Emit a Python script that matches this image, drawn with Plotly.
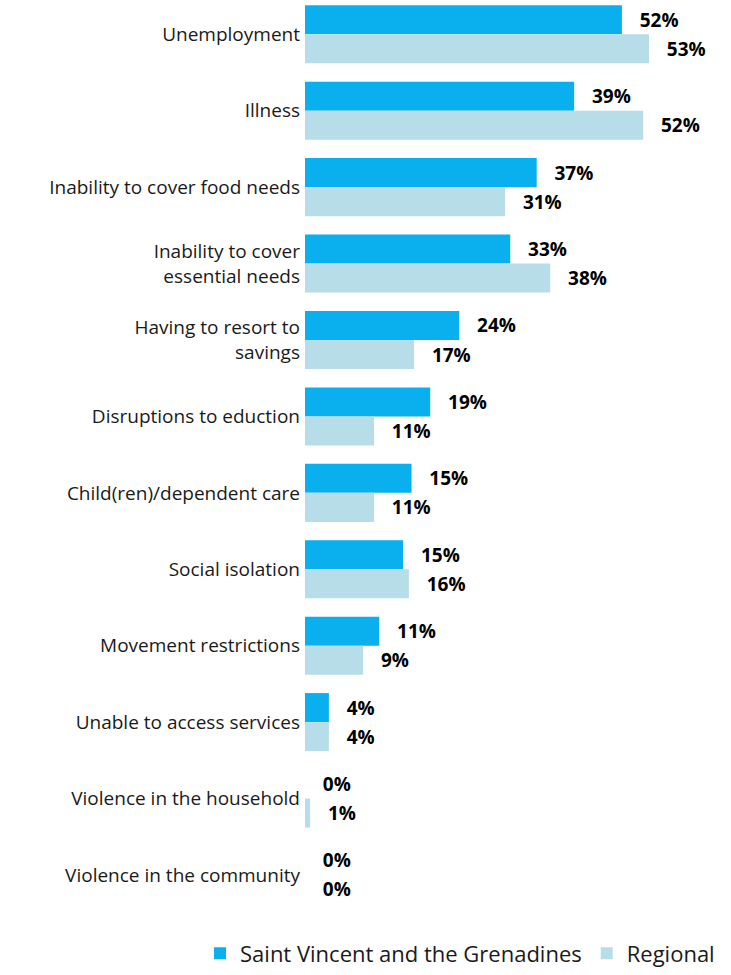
import plotly.graph_objects as go

categories = [
    "Unemployment",
    "Illness",
    "Inability to cover food needs",
    "Inability to cover<br>essential needs",
    "Having to resort to<br>savings",
    "Disruptions to eduction",
    "Child(ren)/dependent care",
    "Social isolation",
    "Movement restrictions",
    "Unable to access services",
    "Violence in the household",
    "Violence in the community",
]

# bar lengths as drawn in the picture (percent)
svg_values = [49.1, 41.7, 35.9, 31.8, 23.9, 19.4, 16.5, 15.2, 11.5, 3.7, 0, 0]
regional_values = [53.3, 52.4, 31.0, 38.0, 16.9, 10.7, 10.7, 16.1, 9.0, 3.7, 0.8, 0]

# data labels as printed in the picture
svg_labels = ["52%", "39%", "37%", "33%", "24%", "19%", "15%", "15%", "11%", "4%", "0%", "0%"]
regional_labels = ["53%", "52%", "31%", "38%", "17%", "11%", "11%", "16%", "9%", "4%", "1%", "0%"]

series_names = ["Saint Vincent and the Grenadines", "Regional"]
colors = ["#0AB0EE", "#B7DEE8"]

FONT = "Open Sans"
pad = "\u00a0\u00a0\u00a0"

fig = go.Figure()
for name, vals, labs, col in zip(series_names, [svg_values, regional_values],
                                 [svg_labels, regional_labels], colors):
    fig.add_trace(go.Bar(
        y=categories, x=vals, orientation="h", name=name,
        marker=dict(color=col, line=dict(width=0)),
        text=[pad + l for l in labs], textposition="outside",
        textfont=dict(family=FONT, size=19, color="black", weight="bold"),
        cliponaxis=False, hoverinfo="skip",
    ))

W = 731
fig.update_layout(
    width=W, height=975,
    barmode="group", bargap=0.24, bargroupgap=0,
    paper_bgcolor="white", plot_bgcolor="white",
    margin=dict(l=0, r=0, t=0, b=58, autoexpand=False),
    font=dict(family=FONT, size=19, color="#1a1a1a"),
    xaxis=dict(domain=[305 / W, 720 / W], range=[0, 64.3], visible=False,
               showgrid=False, zeroline=False),
    yaxis=dict(range=[11.55, -0.449], showgrid=False, zeroline=False, showline=False,
               ticks="", tickfont=dict(family=FONT, size=19, color="#1a1a1a"),
               ticklabelstandoff=4, automargin=False),
    legend=dict(orientation="h", xref="container", yref="container",
                x=0.985, xanchor="right", y=0.022, yanchor="middle",
                font=dict(family=FONT, size=22, color="#1a1a1a"),
                itemwidth=30, traceorder="normal", tracegroupgap=0),
    showlegend=True,
)

fig.write_html("out.html", config={"displayModeBar": False},
               post_script="document.body.style.margin='0';"
               "document.body.style.padding='0';")
